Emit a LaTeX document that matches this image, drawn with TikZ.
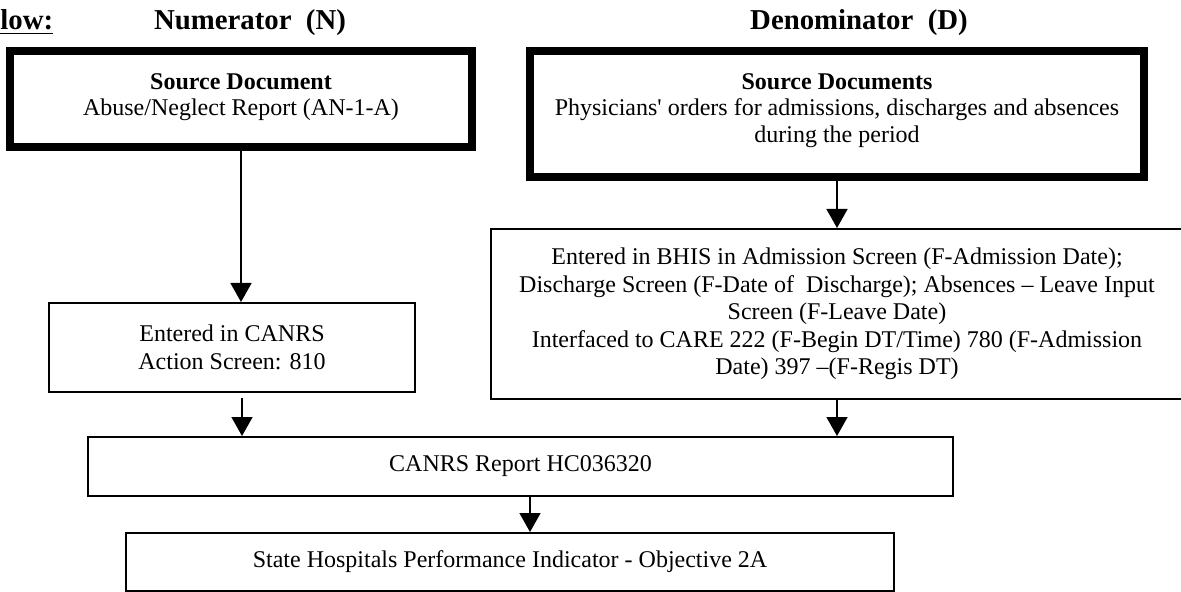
\documentclass[tikz,border=0pt]{standalone}
\usepackage{fontspec}
\setmainfont{Liberation Serif}[Ligatures=TeXOff]
\usetikzlibrary{arrows.meta}
\begin{document}
\begin{tikzpicture}[x=0.5pt,y=-0.5pt,
  txt/.style={font=\fontsize{12}{13.8}\selectfont, align=center},
  thickbox/.style={draw, line width=4pt, inner sep=0pt},
  thinbox/.style={draw, line width=1pt, inner sep=0pt, txt},
  head/.style={font=\bfseries\fontsize{14.4}{16}\selectfont, inner sep=0pt},
  arr/.style={line width=0.8pt, -{Triangle[length=9.5pt,width=10.5pt]}}]
\useasboundingbox (0,0) rectangle (1181,592);
% headers
\node[head, anchor=base west] (hlow) at (0,30) {\underline{low:}};
\node[head, anchor=base] (hnum) at (250,30) {Numerator\ \ (N)};
\node[head, anchor=base] (hden) at (859,30) {Denominator\ \ (D)};
% boxes
\node[thickbox, minimum width=231pt, minimum height=48pt] (srcN) at (241,99) {};
\node[thickbox, minimum width=307pt, minimum height=63pt] (srcD) at (837,114) {};
\node[txt, inner sep=0pt, anchor=north] (srcNt) at (241,73)
  {\textbf{Source Document}\\[-0.8pt]Abuse/Neglect Report (AN-1-A)};
\node[txt, inner sep=0pt, anchor=north] (srcDt) at (837,73)
  {\textbf{Source Documents}\\[-0.8pt]Physicians' orders for admissions, discharges and absences\\during the period};
\node[thinbox, minimum width=183pt, minimum height=44.5pt] (ent) at (232,347.5)
  {Entered in CANRS\\Action Screen: 810};
\node[thinbox, minimum width=346pt, minimum height=85pt] (bhis) at (837,314)
  {Entered in BHIS in Admission Screen (F-Admission Date);\\
   Discharge Screen (F-Date of\ \ Discharge); Absences – Leave Input\\
   Screen (F-Leave Date)\\
   Interfaced to CARE 222 (F-Begin DT/Time) 780 (F-Admission\\
   Date) 397 –(F-Regis DT)};
\node[thinbox, minimum width=432.5pt, minimum height=29.5pt] (rep) at (520.5,466.5)
  {CANRS Report HC036320};
\node[thinbox, minimum width=384pt, minimum height=29pt] (st) at (510,562)
  {State Hospitals Performance Indicator - Objective 2A};
% connectors
\coordinate (e2s) at (242,398);
\coordinate (a5) at (530,0);
\draw[arr] (srcN.south) -- (srcN.south |- ent.north);
\draw[arr] (e2s) -- (e2s |- rep.north);
\draw[arr] (srcD.south) -- (bhis.north);
\draw[arr] (bhis.south) -- (bhis.south |- rep.north);
\draw[arr] (rep.south -| a5) -- (st.north -| a5);
\end{tikzpicture}
\end{document}
